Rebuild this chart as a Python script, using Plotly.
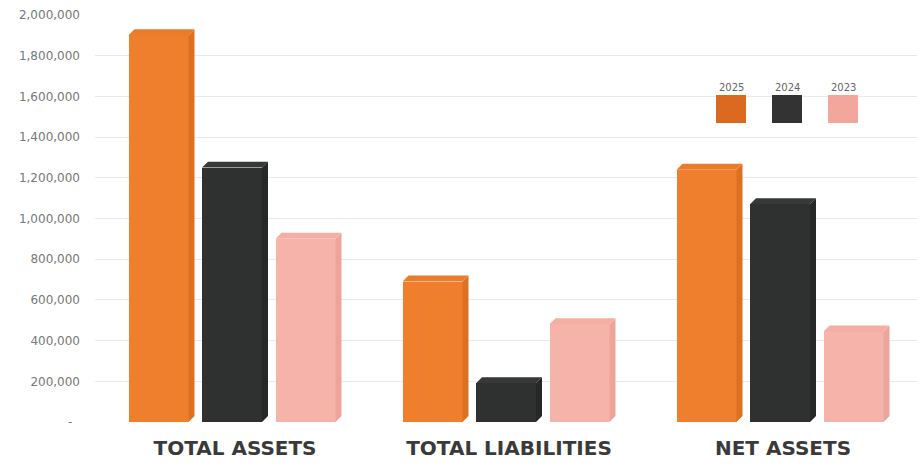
import plotly.graph_objects as go

# ---- data -------------------------------------------------------------
categories = ["TOTAL ASSETS", "TOTAL LIABILITIES", "NET ASSETS"]
series_names = ["2025", "2024", "2023"]
values_2025 = [1900000, 690000, 1240000]
values_2024 = [1250000, 190000, 1070000]
values_2023 = [900000, 480000, 445000]
y_ticks = [0, 200000, 400000, 600000, 800000, 1000000,
           1200000, 1400000, 1600000, 1800000, 2000000]

series_values = [values_2025, values_2024, values_2023]

# ---- styling ----------------------------------------------------------
W, H = 917, 466
M_L, M_R, M_T, M_B = 95, 0, 15, 44
PLOT_W = W - M_L - M_R
PLOT_H = H - M_T - M_B

Y_MAX = 2000000
PX_PER_X = 274.0                 # pixels per category step
X0_PX = 235.0                    # pixel position of first category centre
X_RANGE = [-(X0_PX - M_L) / PX_PER_X, (W - M_R - X0_PX) / PX_PER_X]

FRONT_PX = 60.0                  # front face width
DEPTH_PX = 6.0                   # oblique depth of the 3D faces
PITCH_PX = 73.5                  # distance between bars inside a group

front_w = FRONT_PX / PX_PER_X
dx = DEPTH_PX / PX_PER_X
dy = DEPTH_PX * Y_MAX / PLOT_H
pitch = PITCH_PX / PX_PER_X

front_colors = ["#EF7F2C", "#2F3030", "#F6B3A9"]
top_colors = ["#EC7B2A", "#373838", "#F4AEA4"]
side_colors = ["#DE7022", "#262727", "#EDA59B"]
legend_colors = ["#DB6A20", "#333333", "#F3A69C"]

fig = go.Figure()

for k, vals in enumerate(series_values):
    # left edge of each front face, derived from category index and series slot
    lefts = [i + (k - 1) * pitch - (front_w + dx) / 2 for i in range(len(categories))]
    centres = [l + front_w / 2 for l in lefts]

    fig.add_trace(go.Bar(
        x=centres, y=vals, width=front_w,
        marker=dict(color=front_colors[k], line=dict(width=0)),
        name=series_names[k], showlegend=False,
        hovertemplate="%{y:,}<extra>" + series_names[k] + "</extra>",
    ))

    # right side faces
    sx, sy = [], []
    for l, v in zip(lefts, vals):
        r = l + front_w
        sx += [r, r + dx, r + dx, r, r, None]
        sy += [0, dy, v + dy, v, 0, None]
    fig.add_trace(go.Scatter(
        x=sx, y=sy, mode="lines", fill="toself",
        fillcolor=side_colors[k], line=dict(width=0, color=side_colors[k]),
        hoverinfo="skip", showlegend=False,
    ))

    # top faces
    tx, ty = [], []
    for l, v in zip(lefts, vals):
        r = l + front_w
        tx += [l, r, r + dx, l + dx, l, None]
        ty += [v, v, v + dy, v + dy, v, None]
    fig.add_trace(go.Scatter(
        x=tx, y=ty, mode="lines", fill="toself",
        fillcolor=top_colors[k], line=dict(width=0, color=top_colors[k]),
        hoverinfo="skip", showlegend=False,
    ))

# ---- custom legend: label above a colour swatch ---------------------
def px_x(px):
    return (px - M_L) / PLOT_W

def px_y(py):
    return (H - M_B - py) / PLOT_H

shapes, annotations = [], []
for k, name in enumerate(series_names):
    left = 716 + 56 * k
    shapes.append(dict(
        type="rect", xref="paper", yref="paper",
        x0=px_x(left), x1=px_x(left + 30), y0=px_y(123), y1=px_y(95),
        fillcolor=legend_colors[k], line=dict(width=0), layer="above",
    ))
    annotations.append(dict(
        text=name, xref="paper", yref="paper",
        x=px_x(left + 15), y=px_y(87), xanchor="center", yanchor="middle",
        showarrow=False, font=dict(family="DejaVu Sans", size=10, color="#666666"),
    ))

tick_text = [f"{v:,}" if v else "-\u00a0\u00a0" for v in y_ticks]

fig.update_layout(
    width=W, height=H,
    margin=dict(l=M_L, r=M_R, t=M_T, b=M_B, pad=0),
    paper_bgcolor="white", plot_bgcolor="white",
    barmode="overlay", bargap=0,
    shapes=shapes, annotations=annotations,
    showlegend=False,
    xaxis=dict(
        range=X_RANGE, tickmode="array",
        tickvals=list(range(len(categories))), ticktext=categories,
        showgrid=False, zeroline=False, showline=False, ticks="",
        ticklabelstandoff=12,
        tickfont=dict(family="DejaVu Sans", size=20, color="#3A3A3A", weight="bold"),
    ),
    yaxis=dict(
        range=[0, Y_MAX], tickmode="array",
        tickvals=y_ticks, ticktext=tick_text,
        showgrid=True, gridcolor="#EAEAEA", gridwidth=1,
        zeroline=False, showline=False, ticks="",
        ticklabelstandoff=14,
        tickfont=dict(family="DejaVu Sans", size=12, color="#777777"),
    ),
)

fig.write_html("out.html")
